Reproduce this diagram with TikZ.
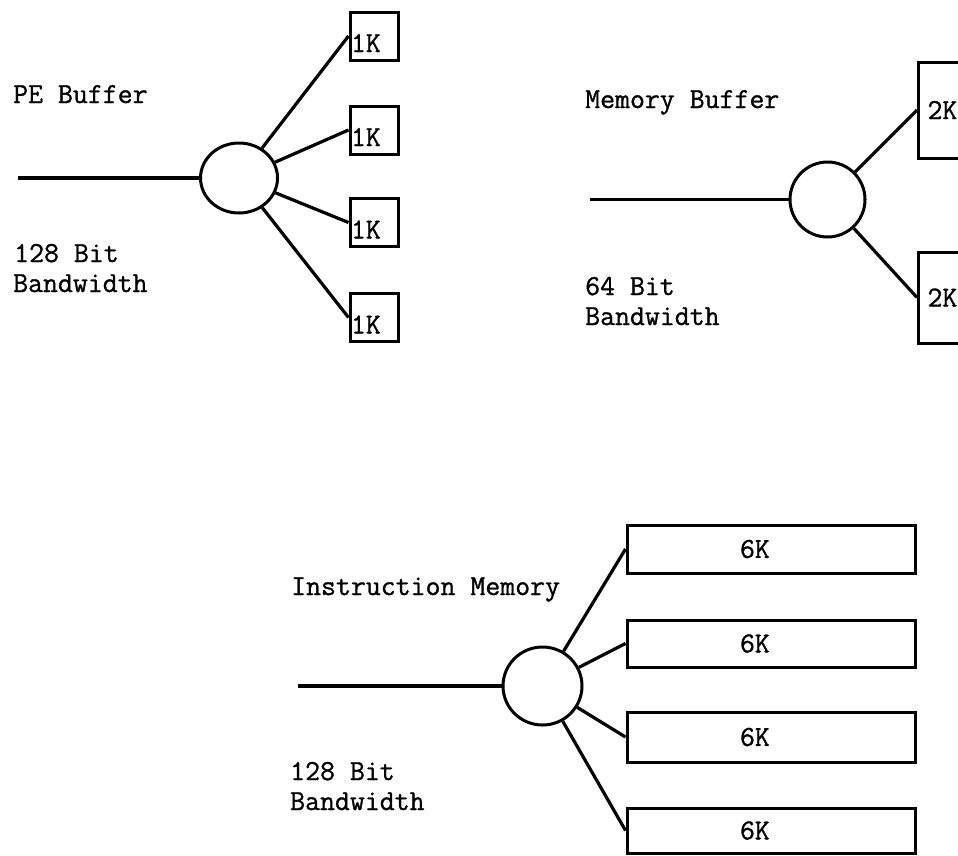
\documentclass[tikz,border=0pt]{standalone}
\usepackage{fontspec}
\newfontfamily\typewr{Latin Modern Mono}[FakeBold=1.0]
\usetikzlibrary{shapes.geometric}
\begin{document}
\begin{tikzpicture}[x=1pt,y=-1pt,
  every node/.style={font=\fontsize{29}{30}\selectfont\typewr},
  wire/.style={line width=3.2pt},
  hub/.style={draw,ellipse,line width=3pt,inner sep=0pt},
  txt/.style={anchor=base west,inner sep=0pt},
  kbox/.style={draw,line width=3pt,minimum width=48pt,minimum height=48pt,
    inner ysep=0pt,inner xsep=1pt,text width=46pt,align=left,
    text height=40pt,text depth=8pt},
  twokbox/.style={draw,line width=3pt,anchor=west,inner xsep=9pt,
    text width=80pt,align=left},
  sixkbox/.style={draw,line width=3pt,minimum width=288pt,inner sep=0pt,
    text width=62pt,align=left}
]
\useasboundingbox (0,0) rectangle (958,855);
\fill[white] (0,0) rectangle (958,855);

% ---------------- PE Buffer ----------------
\node[txt] (t1) at (13,103) {PE Buffer};
\node[txt] (t2) at (14,262) {128 Bit};
\node[txt] (t3) at (13,292) {Bandwidth};
\coordinate (i1) at (18,178);
\node[hub,minimum width=77pt,minimum height=70pt] (c1) at (239,178) {};
\node[kbox] (b1) at (374,36) {1K};
\node[kbox] (b2) at (374,130) {1K};
\node[kbox] (b3) at (374,222.5) {1K};
\node[kbox] (b4) at (374,317.5) {1K};
\draw[wire] (i1) -- (c1.west);
\draw[wire] (c1) -- (b1.west);
\draw[wire] (c1) -- (b2.west);
\draw[wire] (c1) -- (b3.west);
\draw[wire] (c1) -- (b4.west);

% ---------------- Memory Buffer ----------------
\node[txt] (t4) at (585,108) {Memory Buffer};
\node[txt] (t5) at (585,295) {64 Bit};
\node[txt] (t6) at (585,325) {Bandwidth};
\coordinate (i2) at (590,199.5);
\node[hub,minimum width=75pt,minimum height=75pt] (c2) at (827.5,199.5) {};
\begin{scope}
  \clip (0,0) rectangle (958,855);
  \node[twokbox,minimum height=96pt] (m1) at (917,110) {2K};
  \node[twokbox,minimum height=91pt] (m2) at (917,297.5) {2K};
\end{scope}
\draw[wire] (i2) -- (c2.west);
\draw[wire] (c2) -- (m1.west);
\draw[wire] (c2) -- (m2.west);

% ---------------- Instruction Memory ----------------
\node[txt] (t7) at (291,595) {Instruction Memory};
\node[txt] (t8) at (290,780) {128 Bit};
\node[txt] (t9) at (290,810) {Bandwidth};
\coordinate (i3) at (298,686);
\node[hub,minimum width=79pt,minimum height=78pt] (c3) at (542.5,686) {};
\node[sixkbox,minimum height=48pt] (s1) at (771,549) {6K};
\node[sixkbox,minimum height=47pt] (s2) at (771,643.5) {6K};
\node[sixkbox,minimum height=50pt] (s3) at (771,737) {6K};
\node[sixkbox,minimum height=45pt] (s4) at (771,830.5) {6K};
\draw[wire] (i3) -- (c3.west);
\draw[wire] (c3) -- (s1.west);
\draw[wire] (c3) -- (s2.west);
\draw[wire] (c3) -- (s3.west);
\draw[wire] (c3) -- (s4.west);
\end{tikzpicture}
\end{document}
